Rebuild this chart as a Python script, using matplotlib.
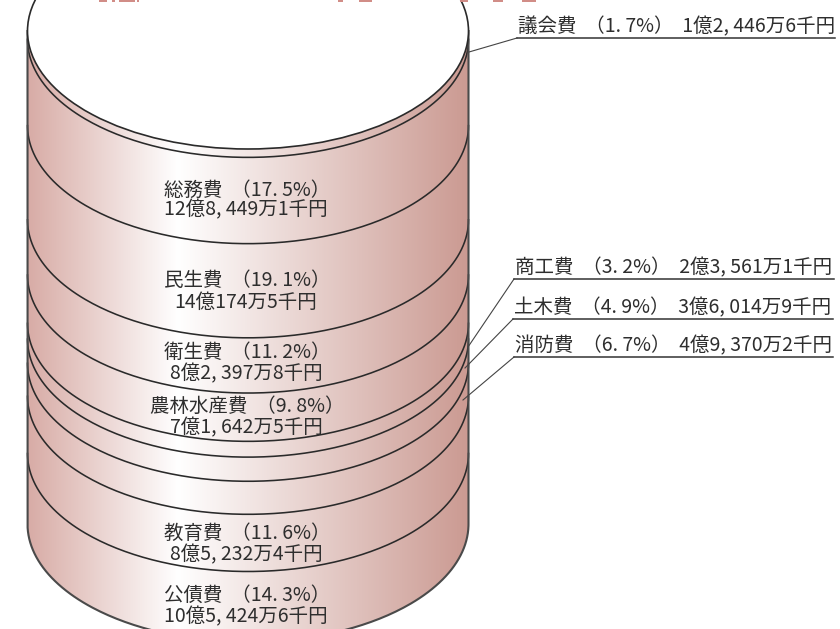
import numpy as np
import matplotlib
matplotlib.use("Agg")
import matplotlib.pyplot as plt
import matplotlib.colors as mplc
from matplotlib.patches import Ellipse, PathPatch
from matplotlib.path import Path

plt.rcParams['font.family'] = ['Noto Sans CJK JP', 'DejaVu Sans']

# top to bottom on the cylinder
names = ["議会費", "総務費", "民生費", "衛生費", "農林水産費",
         "商工費", "土木費", "消防費", "教育費", "公債費"]
shares = [1.7, 17.5, 19.1, 11.2, 9.8, 3.2, 4.9, 6.7, 11.6, 14.3]
amounts = ["1億2,446万6千円", "12億8,449万1千円", "14億174万5千円", "8億2,397万8千円",
           "7億1,642万5千円", "2億3,561万1千円", "3億6,014万9千円", "4億9,370万2千円",
           "8億5,232万4千円", "10億5,424万6千円"]

# cylinder geometry, in pixels
cx, rx, ry = 248, 220.5, 118
top_cy = 31
px_per_pct = 4.93
txt_col = "#2e2e2e"


def wide(s):
    # the original face is monospaced, so . and , sit in a wide cell
    return s.replace(".", ". ").replace(",", ", ")


fig = plt.figure(figsize=(8.4, 6.29), dpi=100)
ax = fig.add_axes([0, 0, 1, 1])
ax.set_xlim(0, 840)
ax.set_ylim(629, 0)
ax.axis("off")

bottom_cy = top_cy + px_per_pct * sum(shares)
t = np.linspace(0, np.pi, 200)
arc_x = cx + rx * np.cos(t)
arc_y = np.sin(t) * ry

# body outline: left side, bottom arc, right side
body_x = np.concatenate([[cx - rx], arc_x[::-1], [cx + rx]])
body_y = np.concatenate([[top_cy], bottom_cy + arc_y[::-1], [top_cy]])
body = Path(np.column_stack([body_x, body_y]))

shade = mplc.LinearSegmentedColormap.from_list(
    "shade", [(0, "#d8aca6"), (0.34, "#ffffff"), (1, "#cb9a92")])
grad = np.linspace(0, 1, 512).reshape(1, -1)
im = ax.imshow(grad, cmap=shade, extent=[cx - rx, cx + rx, bottom_cy + ry, top_cy],
               aspect="auto", zorder=1)
clip = PathPatch(body, transform=ax.transData, fc="none", ec="none")
ax.add_patch(clip)
im.set_clip_path(clip)
ax.set_xlim(0, 840)
ax.set_ylim(629, 0)

# segment boundaries
cum = np.cumsum(shares)
for c in cum[:-1]:
    ax.plot(arc_x, top_cy + px_per_pct * c + arc_y, color="#2a2a2a", lw=1.15, zorder=3)

ax.plot(body_x, body_y, color="#4a4a4a", lw=1.5, zorder=3)

# white top face
ax.add_patch(Ellipse((cx, top_cy), 2 * rx, 2 * ry, fc="white", ec="#2a2a2a", lw=1.2, zorder=4))

# bottoms of the cut off heading along the top edge
for x0, x1 in [(99, 107), (112, 115), (119, 135), (137, 139), (338, 343),
               (359, 372), (460, 468), (493, 503), (522, 536)]:
    ax.plot([x0, x1], [0.5, 0.5], color="#d08a84", lw=1.4, solid_capstyle="butt", zorder=6)

# inside labels
inside_y = {1: (190, 210), 2: (280, 302), 3: (352, 374), 4: (406, 428), 8: (533, 555), 9: (595, 617)}
for i, (y1, y2) in inside_y.items():
    ax.text(cx - 1, y1, wide(f"{names[i]}  （{shares[i]}%）"), ha="center", va="center",
            fontsize=14, color=txt_col, zorder=5)
    ax.text(cx - 2, y2, wide(amounts[i]), ha="center", va="center",
            fontsize=14, color=txt_col, zorder=5)

# outside labels with leader lines: anchor on cylinder, elbow, line end
leaders = {0: ((469, 52), (517, 38), 835),
           5: ((468, 347), (514, 279), 834),
           6: ((465, 368), (513, 319), 833),
           7: ((463, 400), (514, 357), 833)}
for i, (a, b, end) in leaders.items():
    ax.plot([a[0], b[0]], [a[1], b[1]], color="#444444", lw=0.8, zorder=5)
    ax.plot([b[0], end], [b[1], b[1]], color="#333333", lw=1.1, zorder=5)
    ax.text(b[0] + 1, b[1] - 11, wide(f"{names[i]}  （{shares[i]}%）  {amounts[i]}"), ha="left", va="center",
            fontsize=14, color=txt_col, zorder=5)

fig.savefig("out.png", dpi=100)
